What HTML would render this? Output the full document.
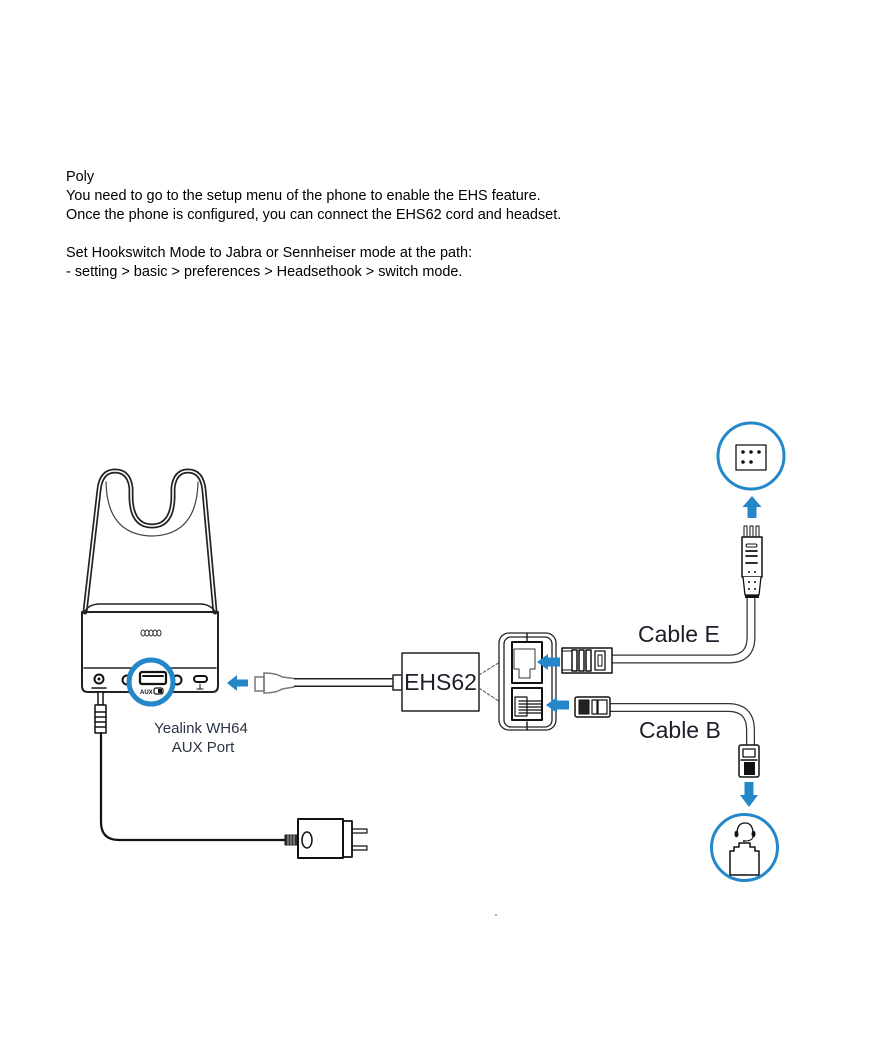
<!DOCTYPE html>
<html><head><meta charset="utf-8"><style>
html,body{margin:0;padding:0;background:#fff;}
body{width:880px;height:1056px;position:relative;overflow:hidden;}
.t{position:absolute;left:66px;font-family:"Liberation Sans",sans-serif;font-size:14.45px;line-height:19px;color:#000;white-space:nowrap;}
svg{position:absolute;left:0;top:0;}
</style></head><body>
<div class="t" style="top:168px">Poly</div>
<div class="t" style="top:187px">You need to go to the setup menu of the phone to enable the EHS feature.</div>
<div class="t" style="top:206px">Once the phone is configured, you can connect the EHS62 cord and headset.</div>
<div class="t" style="top:244px">Set Hookswitch Mode to Jabra or Sennheiser mode at the path:</div>
<div class="t" style="top:263px">- setting &gt; basic &gt; preferences &gt; Headsethook &gt; switch mode.</div>

<svg width="880" height="1056" viewBox="0 0 880 1056" xmlns="http://www.w3.org/2000/svg">
<g fill="none" stroke-linejoin="round" stroke-linecap="round">
 <!-- base station outline (double line) -->
 <path d="M85 612 L99 490 Q101 471 115 471 Q129 471 131 488 L131 498 Q132 526 152 526 Q172 526 173 498 L173 488 Q175 471 188 471 Q202 471 204 490 L215 612" stroke="#222" stroke-width="5"/>
 <path d="M85 612 L99 490 Q101 471 115 471 Q129 471 131 488 L131 498 Q132 526 152 526 Q172 526 173 498 L173 488 Q175 471 188 471 Q202 471 204 490 L215 612" stroke="#fff" stroke-width="1.6"/>
 <path d="M106 482 Q107 535 152 536 Q197 535 198 482" stroke="#444" stroke-width="1.2"/>
 <!-- hood -->
 <path d="M84 613 Q88 604 100 604 L200 604 Q211 604 216 613" stroke="#222" stroke-width="1.5"/>
 <!-- lower body -->
 <path d="M82 612 L82 686 Q82 692 88 692 L212 692 Q218 692 218 686 L218 612 Z" stroke="#222" stroke-width="2"/>
 <path d="M84 668 L216 668" stroke="#222" stroke-width="1.5"/>
 <!-- grille -->
 <g stroke="#333" stroke-width="1">
  <ellipse cx="143" cy="633" rx="2" ry="3"/><ellipse cx="147" cy="633" rx="2" ry="3"/><ellipse cx="151" cy="633" rx="2" ry="3"/><ellipse cx="155" cy="633" rx="2" ry="3"/><ellipse cx="159" cy="633" rx="2" ry="3"/>
 </g>
 <!-- ports -->
 <circle cx="99" cy="679" r="4.5" stroke="#111" stroke-width="2"/>
 <circle cx="99" cy="679" r="1.5" fill="#111" stroke="none"/>
 <path d="M92 688 H107" stroke="#111" stroke-width="1.5" stroke-dasharray="2 1"/>
 <circle cx="127" cy="680" r="4.5" stroke="#111" stroke-width="2"/>
 <circle cx="177" cy="680" r="4.5" stroke="#111" stroke-width="2"/>
 <rect x="194" y="676" width="13" height="6" rx="3" stroke="#111" stroke-width="2"/>
 <path d="M200 684 V689 M197 689 H203" stroke="#111" stroke-width="1"/>
 <!-- blue ring -->
 <circle cx="151" cy="682" r="22" fill="#fff" stroke="#2387c9" stroke-width="5"/>
 <rect x="140" y="672" width="26" height="12" rx="2" stroke="#111" stroke-width="2.2"/>
 <path d="M143 676 H163" stroke="#111" stroke-width="2" stroke-dasharray="2 1"/>
 <text x="140" y="694" font-family="Liberation Sans,sans-serif" font-size="6" font-weight="bold" fill="#111" stroke="none">AUX</text>
 <rect x="154" y="688" width="9" height="6" rx="2" stroke="#111" stroke-width="1.2"/>
 <rect x="158" y="689" width="4" height="4" fill="#111" stroke="none"/>
 <!-- DC jack plug & power cable -->
 <rect x="98" y="692" width="5" height="13" stroke="#111" stroke-width="1.5" fill="#fff"/>
 <rect x="95" y="705" width="11" height="28" stroke="#111" stroke-width="1.5" fill="#fff"/>
 <path d="M95 712 H106 M95 717 H106 M95 722 H106 M95 727 H106" stroke="#111" stroke-width="1.5"/>
 <path d="M101 733 V822 Q101 840 119 840 H286" stroke="#111" stroke-width="2.2"/>
 <rect x="285" y="835" width="13" height="10" fill="#333" stroke="#111" stroke-width="1"/>
 <path d="M288 835 V845 M291 835 V845 M294 835 V845" stroke="#ccc" stroke-width="0.8"/>
 <rect x="298" y="819" width="45" height="39" stroke="#111" stroke-width="2"/>
 <ellipse cx="307" cy="840" rx="5" ry="8" stroke="#111" stroke-width="1.5"/>
 <rect x="343" y="821" width="9" height="36" stroke="#111" stroke-width="1.8"/>
 <rect x="352" y="829" width="15" height="4" stroke="#111" stroke-width="1.2"/>
 <rect x="352" y="846" width="15" height="4" stroke="#111" stroke-width="1.2"/>

 <!-- left arrow to base -->
 <path d="M227 683 L237 675 L237 679.5 L248 679.5 L248 686.5 L237 686.5 L237 691 Z" fill="#2387c9" stroke="none"/>
 <!-- EHS cable -->
 <rect x="255" y="677" width="9" height="14" stroke="#777" stroke-width="1.5"/>
 <path d="M264 673 Q276 673 282 677 L294 678.5 M264 693 Q276 693 282 689 L294 687" stroke="#777" stroke-width="1.5"/>
 <path d="M264 673 V693" stroke="#777" stroke-width="1.5"/>
 <path d="M294 682.5 H393" stroke="#222" stroke-width="9" stroke-linecap="butt"/>
 <path d="M294 682.5 H393" stroke="#fff" stroke-width="6" stroke-linecap="butt"/>
 <rect x="393" y="675" width="9" height="15" stroke="#222" stroke-width="1.5" fill="#fff"/>
 <rect x="402" y="653" width="77" height="58" stroke="#222" stroke-width="1.5" fill="#fff"/>
 <text x="440.5" y="690" text-anchor="middle" font-family="Liberation Sans,sans-serif" font-size="23" fill="#1e1e2a" stroke="none">EHS62</text>
 <!-- dashed lines -->
 <path d="M479 675 L500 662 M479 688 L500 702" stroke="#555" stroke-width="1" stroke-dasharray="3 2"/>

 <!-- adapter housing -->
 <rect x="499" y="633" width="57" height="97" rx="10" stroke="#222" stroke-width="1.3" fill="#fff"/>
 <rect x="504" y="637" width="48" height="90" rx="7" stroke="#222" stroke-width="1.3"/>
 <path d="M527 633 V641 M527 722 V730" stroke="#222" stroke-width="1.5"/>
 <rect x="512" y="642" width="30" height="41" stroke="#111" stroke-width="2"/>
 <path d="M514 649 H535 V669 H530 V678 H519 V669 H514 Z" stroke="#333" stroke-width="1"/>
 <rect x="512" y="688" width="30" height="32" stroke="#111" stroke-width="2"/>
 <rect x="515" y="697" width="12" height="19" stroke="#111" stroke-width="1.2"/>
 <path d="M519 701 H541 M519 704 H541 M519 707 H541 M519 710 H541 M519 713 H541" stroke="#111" stroke-width="1.3"/>
 <!-- arrows into adapter -->
 <path d="M537 662 L548 654 L548 657.5 L560 657.5 L560 666.5 L548 666.5 L548 670 Z" fill="#2387c9" stroke="none"/>
 <path d="M546 705 L557 697 L557 700.5 L569 700.5 L569 709.5 L557 709.5 L557 713 Z" fill="#2387c9" stroke="none"/>

 <!-- Cable E -->
 <path d="M612 659 H729 Q751 659 751 637 V598" stroke="#333" stroke-width="9" stroke-linecap="butt"/>
 <path d="M612 659 H729 Q751 659 751 637 V598" stroke="#fff" stroke-width="6.5" stroke-linecap="butt"/>
 <rect x="562" y="648" width="50" height="25" stroke="#111" stroke-width="1.5" fill="#fff"/>
 <path d="M562 651 H572 M562 670 H572" stroke="#111" stroke-width="1"/>
 <rect x="572" y="650" width="5" height="21" stroke="#111" stroke-width="1.5"/>
 <rect x="579" y="650" width="5" height="21" stroke="#111" stroke-width="1.5"/>
 <rect x="586" y="650" width="5" height="21" stroke="#111" stroke-width="1.5"/>
 <rect x="595" y="651" width="10" height="19" stroke="#111" stroke-width="1.3"/>
 <rect x="598" y="655" width="4" height="11" stroke="#111" stroke-width="1"/>

 <!-- Cable B -->
 <path d="M610 707.5 H728 Q750.5 707.5 750.5 730 V745" stroke="#333" stroke-width="9" stroke-linecap="butt"/>
 <path d="M610 707.5 H728 Q750.5 707.5 750.5 730 V745" stroke="#fff" stroke-width="6.5" stroke-linecap="butt"/>
 <rect x="575" y="697" width="35" height="20" rx="2" stroke="#111" stroke-width="1.5" fill="#fff"/>
 <rect x="579" y="700" width="10" height="14" fill="#222" stroke="#111" stroke-width="1"/>
 <rect x="592" y="700" width="5" height="14" stroke="#111" stroke-width="1.2"/>
 <rect x="598" y="700" width="9" height="14" stroke="#111" stroke-width="1.2"/>

 <!-- Connector B vertical -->
 <rect x="739" y="745" width="20" height="32" rx="2" stroke="#111" stroke-width="1.5" fill="#fff"/>
 <rect x="743" y="749" width="12" height="8" stroke="#111" stroke-width="1.3"/>
 <path d="M741 760 H757" stroke="#111" stroke-width="1.5"/>
 <rect x="744" y="762" width="11" height="13" fill="#111" stroke="none"/>

 <!-- down arrow -->
 <path d="M744.5 782 H753.5 V795 H758 L749 807 L740 795 H744.5 Z" fill="#2387c9" stroke="none"/>
 <!-- headset circle -->
 <circle cx="744.5" cy="847.5" r="33" stroke="#2387c9" stroke-width="3" fill="#fff"/>
 <path d="M737 834 Q737 823 745 823 Q753 823 753 834" stroke="#111" stroke-width="1.3"/>
 <ellipse cx="736.5" cy="834" rx="2" ry="3.3" fill="#111" stroke="none"/>
 <ellipse cx="753.5" cy="834" rx="2" ry="3.3" fill="#111" stroke="none"/>
 <path d="M753 837 Q752 841 745 841" stroke="#111" stroke-width="1"/>
 <circle cx="744" cy="841" r="1" fill="#111" stroke="none"/>
 <path d="M730 875 V851 H734 V847 H739 V843 H750 V847 H755 V851 H759 V875 Z" stroke="#111" stroke-width="1.5" fill="#fff"/>

 <!-- Connector E vertical -->
 <rect x="744" y="526" width="3" height="11" stroke="#111" stroke-width="1"/>
 <rect x="750" y="526" width="3" height="11" stroke="#111" stroke-width="1"/>
 <rect x="756" y="526" width="3" height="11" stroke="#111" stroke-width="1"/>
 <rect x="742" y="537" width="20" height="40" stroke="#111" stroke-width="1.5" fill="#fff"/>
 <rect x="746" y="544" width="11" height="3" rx="1.5" stroke="#111" stroke-width="1"/>
 <path d="M746 551 H757 M746 556 H757 M746 563 H757" stroke="#111" stroke-width="1.8"/>
 <circle cx="749" cy="572" r="1" fill="#111" stroke="none"/>
 <circle cx="755" cy="572" r="1" fill="#111" stroke="none"/>
 <path d="M743 577 L745 595 H759 L761 577" stroke="#111" stroke-width="1.3" fill="#fff"/>
 <circle cx="749" cy="582" r="1" fill="#111" stroke="none"/>
 <circle cx="755" cy="582" r="1" fill="#111" stroke="none"/>
 <circle cx="749" cy="589" r="1" fill="#111" stroke="none"/>
 <circle cx="755" cy="589" r="1" fill="#111" stroke="none"/>
 <rect x="745" y="595" width="14" height="3" fill="#111" stroke="none"/>
 <!-- up arrow -->
 <path d="M752 496 L761.5 507 H756.5 V518 H747.5 V507 H742.5 Z" fill="#2387c9" stroke="none"/>
 <!-- top circle -->
 <circle cx="751" cy="456" r="33" stroke="#2387c9" stroke-width="3" fill="#fff"/>
 <rect x="736" y="445" width="30" height="25" stroke="#111" stroke-width="1.3"/>
 <circle cx="743" cy="452" r="1.8" fill="#111" stroke="none"/>
 <circle cx="751" cy="452" r="1.8" fill="#111" stroke="none"/>
 <circle cx="759" cy="452" r="1.8" fill="#111" stroke="none"/>
 <circle cx="743" cy="462" r="1.8" fill="#111" stroke="none"/>
 <circle cx="751" cy="462" r="1.8" fill="#111" stroke="none"/>
</g>
<g font-family="Liberation Sans,sans-serif" fill="#1e1e2a">
 <text x="638" y="642" font-size="23">Cable E</text>
 <text x="639" y="738" font-size="23">Cable B</text>
 <text x="201" y="733" font-size="15" text-anchor="middle" fill="#2b3444">Yealink WH64</text>
 <text x="203" y="752" font-size="15" text-anchor="middle" fill="#2b3444">AUX Port</text>
</g>
<circle cx="496" cy="915" r="0.8" fill="#444"/>
</svg>
</body></html>
